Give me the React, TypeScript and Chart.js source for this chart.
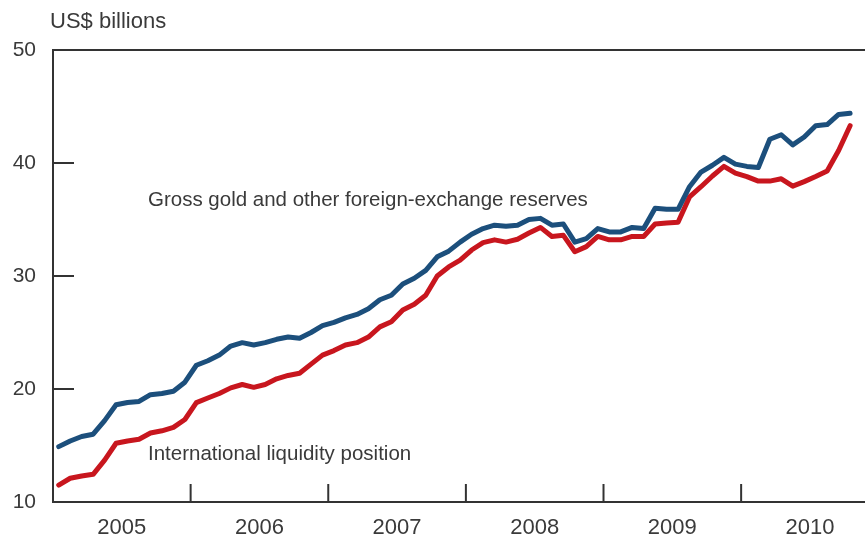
import React, { useEffect, useRef } from "react";
import { Chart, registerables } from "chart.js";

Chart.register(...registerables);

const yearLabels = ["2005", "2006", "2007", "2008", "2009", "2010"];

// Monthly, Jan 2005 – Oct 2010, US$ billions
const grossReserves = [
  14.9, 15.4, 15.8, 16.0, 17.2, 18.6, 18.8, 18.9, 19.5, 19.6, 19.8, 20.6,
  22.1, 22.5, 23.0, 23.8, 24.1, 23.9, 24.1, 24.4, 24.6, 24.5, 25.0, 25.6,
  25.9, 26.3, 26.6, 27.1, 27.9, 28.3, 29.3, 29.8, 30.5, 31.7, 32.2, 33.0,
  33.7, 34.2, 34.5, 34.4, 34.5, 35.0, 35.1, 34.5, 34.6, 33.0, 33.3, 34.2,
  33.9, 33.9, 34.3, 34.2, 36.0, 35.9, 35.9, 37.9, 39.2, 39.8, 40.5, 39.9,
  39.7, 39.6, 42.1, 42.5, 41.6, 42.3, 43.3, 43.4, 44.3, 44.4,
];

const liquidityPosition = [
  11.5, 12.1, 12.3, 12.45, 13.7, 15.2, 15.4, 15.55, 16.1, 16.3, 16.6, 17.3,
  18.8, 19.2, 19.6, 20.1, 20.4, 20.15, 20.4, 20.9, 21.2, 21.4, 22.2, 23.0,
  23.4, 23.9, 24.1, 24.6, 25.5, 25.95, 27.0, 27.5, 28.3, 30.0, 30.8, 31.4,
  32.3, 32.95, 33.2, 33.0, 33.25, 33.8, 34.3, 33.5, 33.6, 32.15, 32.6, 33.5,
  33.2, 33.2, 33.5, 33.5, 34.6, 34.7, 34.75, 37.0, 37.9, 38.85, 39.7, 39.1,
  38.8, 38.4, 38.4, 38.6, 37.95, 38.35, 38.8, 39.3, 41.1, 43.3,
];

const yTickValues = [10, 20, 30, 40, 50];
const yInnerTicks = [20, 30, 40];
const xYearBoundaries = [12, 24, 36, 48, 60];
const xYearCentres = [6, 18, 30, 42, 54, 66];

const FONT = "'Liberation Sans', Arial, Helvetica, sans-serif";
const TEXT = "#3a3a3a";
const AXIS = "#333333";
const BLUE = "#1c4f7c";
const RED = "#c8161e";

const toPoints = (arr: number[]) => arr.map((v, i) => ({ x: i + 0.5, y: v }));

const decorPlugin = {
  id: "decor",
  afterDraw(chart: any) {
    const { ctx, chartArea, scales } = chart;
    const xs = scales.x;
    const ys = scales.y;
    ctx.save();
    ctx.strokeStyle = AXIS;
    ctx.lineWidth = 2;
    // top frame line
    ctx.beginPath();
    ctx.moveTo(chartArea.left, chartArea.top);
    ctx.lineTo(chartArea.right, chartArea.top);
    ctx.stroke();
    // inward y ticks
    yInnerTicks.forEach((v) => {
      const y = ys.getPixelForValue(v);
      ctx.beginPath();
      ctx.moveTo(chartArea.left, y);
      ctx.lineTo(chartArea.left + 21, y);
      ctx.stroke();
    });
    // inward x ticks at year boundaries
    xYearBoundaries.forEach((v) => {
      const x = xs.getPixelForValue(v);
      ctx.beginPath();
      ctx.moveTo(x, chartArea.bottom);
      ctx.lineTo(x, chartArea.bottom - 18);
      ctx.stroke();
    });
    // text
    ctx.fillStyle = TEXT;
    ctx.textBaseline = "middle";
    ctx.textAlign = "left";
    ctx.font = `22px ${FONT}`;
    ctx.fillText("US$ billions", 50, 22);
    ctx.font = `20.5px ${FONT}`;
    ctx.fillText(
      "Gross gold and other foreign-exchange reserves",
      xs.getPixelForValue(8.28),
      ys.getPixelForValue(36.7)
    );
    ctx.fillText(
      "International liquidity position",
      xs.getPixelForValue(8.28),
      ys.getPixelForValue(14.2)
    );
    ctx.restore();
  },
};

export default function App() {
  const ref = useRef<HTMLCanvasElement | null>(null);

  useEffect(() => {
    if (!ref.current) return;
    const chart = new Chart(ref.current, {
      type: "line",
      data: {
        datasets: [
          {
            label: "Gross gold and other foreign-exchange reserves",
            data: toPoints(grossReserves),
            borderColor: BLUE,
            borderWidth: 5,
            pointRadius: 0,
            borderJoinStyle: "round",
            borderCapStyle: "round",
            tension: 0,
          },
          {
            label: "International liquidity position",
            data: toPoints(liquidityPosition),
            borderColor: RED,
            borderWidth: 5,
            pointRadius: 0,
            borderJoinStyle: "round",
            borderCapStyle: "round",
            tension: 0,
          },
        ],
      },
      options: {
        responsive: false,
        maintainAspectRatio: false,
        animation: false,
        layout: { padding: { top: 50, right: 0, left: 0, bottom: 0 } },
        plugins: {
          legend: { display: false },
          tooltip: { enabled: false },
        },
        scales: {
          x: {
            type: "linear",
            min: 0,
            max: 70.8,
            grid: { display: false, drawTicks: false },
            border: { display: true, color: AXIS, width: 2 },
            afterBuildTicks: (s: any) => {
              s.ticks = xYearCentres.map((v) => ({ value: v }));
            },
            afterFit: (s: any) => {
              s.height = 36;
            },
            ticks: {
              autoSkip: false,
              maxRotation: 0,
              padding: 13,
              color: TEXT,
              font: { family: FONT, size: 22 },
              callback: (v: any) => yearLabels[Math.floor(Number(v) / 12)] ?? "",
            },
          },
          y: {
            min: 10,
            max: 50,
            grid: { display: false, drawTicks: false },
            border: { display: true, color: AXIS, width: 2 },
            afterBuildTicks: (s: any) => {
              s.ticks = yTickValues.map((v) => ({ value: v }));
            },
            afterFit: (s: any) => {
              s.width = 53;
            },
            ticks: {
              padding: 17,
              color: TEXT,
              font: { family: FONT, size: 21 },
            },
          },
        },
      },
      plugins: [decorPlugin],
    } as any);
    return () => chart.destroy();
  }, []);

  return (
    <div style={{ position: "absolute", left: 0, top: 0, width: 865, height: 538, background: "#fff" }}>
      <canvas ref={ref} width={865} height={538} style={{ display: "block", width: 865, height: 538 }} />
    </div>
  );
}
